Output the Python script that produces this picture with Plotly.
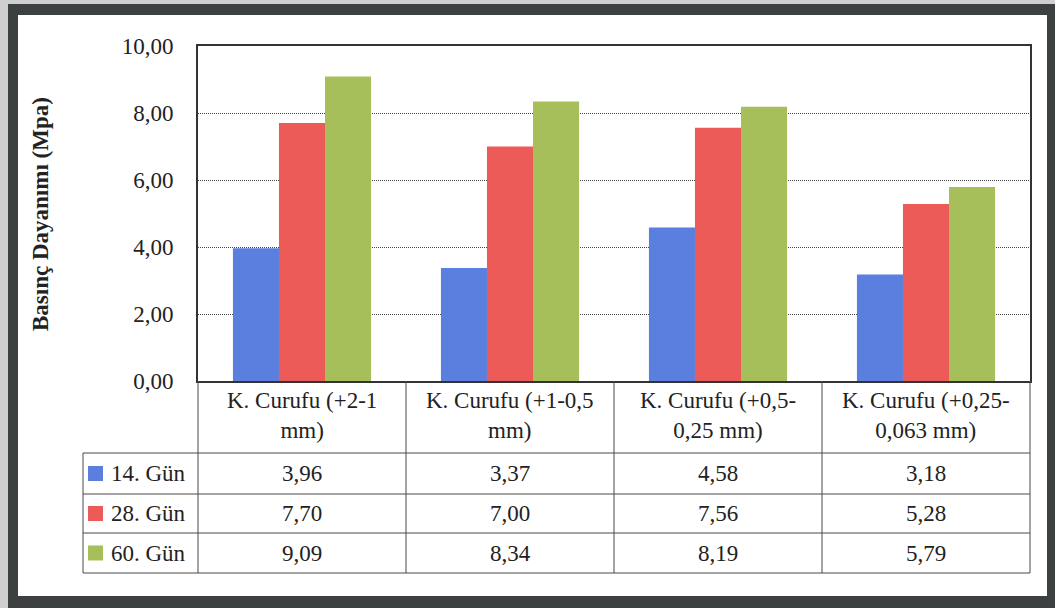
import plotly.graph_objects as go

# Compressive strength (MPa) of mortar with slag fractions, by curing age
categories = [
    "K. Curufu (+2-1<br>mm)",
    "K. Curufu (+1-0,5<br>mm)",
    "K. Curufu (+0,5-<br>0,25 mm)",
    "K. Curufu (+0,25-<br>0,063 mm)",
]
series_names = ["14. Gün", "28. Gün", "60. Gün"]
day14 = [3.96, 3.37, 4.58, 3.18]
day28 = [7.70, 7.00, 7.56, 5.28]
day60 = [9.09, 8.34, 8.19, 5.79]
y_ticks = [0, 2, 4, 6, 8, 10]
y_title = "Basınç Dayanımı (Mpa)"

series_values = [day14, day28, day60]
colors = ["#5B7FDF", "#EC5B58", "#A6BF5B"]

W, H = 1055, 608
L, R, T, B = 198, 1030, 46, 381  # plot area in pixels
FONT = "Liberation Serif, Times New Roman, serif"
FS = 23


def px(x):
    return (x - L) / (R - L)


def py(y):
    return (B - y) / (B - T)


def fmt(v):
    return f"{v:.2f}".replace(".", ",")


fig = go.Figure()
for name, vals, col in zip(series_names, series_values, colors):
    fig.add_trace(go.Bar(x=categories, y=vals, name=name, marker_color=col,
                         marker_line_width=0, showlegend=False))

shapes = []
# outer frame
shapes.append(dict(type="rect", xref="paper", yref="paper", layer="below",
                   x0=px(8), x1=px(W + 5), y0=py(4), y1=py(H + 5),
                   fillcolor="#3d4040", line_width=0))
shapes.append(dict(type="rect", xref="paper", yref="paper", layer="below",
                   x0=px(18), x1=px(1047), y0=py(15), y1=py(596),
                   fillcolor="white", line_width=0))

# data table grid
line = dict(color="#4a4a4a", width=1)
header_bottom = 453
row_edges = [453, 494, 533, 573]
col_edges = [L + i * (R - L) / 4 for i in range(5)]
for x in col_edges:
    shapes.append(dict(type="line", xref="paper", yref="paper",
                       x0=px(x), x1=px(x), y0=py(B), y1=py(row_edges[-1]), line=line))
shapes.append(dict(type="line", xref="paper", yref="paper",
                   x0=px(83), x1=px(83), y0=py(row_edges[0]), y1=py(row_edges[-1]), line=line))
for y in row_edges:
    shapes.append(dict(type="line", xref="paper", yref="paper",
                       x0=px(83), x1=px(R), y0=py(y), y1=py(y), line=line))

annotations = []
# category header cells
for c in categories:
    annotations.append(dict(x=c, xref="x", y=py((B + header_bottom) / 2 - 2), yref="paper",
                            text=c, showarrow=False, font=dict(family=FONT, size=FS, color="#222"),
                            xanchor="center", yanchor="middle"))
# value rows with legend keys
for i, (name, vals, col) in enumerate(zip(series_names, series_values, colors)):
    yc = (row_edges[i] + row_edges[i + 1]) / 2
    shapes.append(dict(type="rect", xref="paper", yref="paper",
                       x0=px(88), x1=px(103), y0=py(yc - 7.5), y1=py(yc + 7.5),
                       fillcolor=col, line_width=0))
    annotations.append(dict(x=px(109), xref="paper", y=py(yc), yref="paper",
                            text=name, showarrow=False, xanchor="left", yanchor="middle",
                            font=dict(family=FONT, size=FS, color="#222")))
    for c, v in zip(categories, vals):
        annotations.append(dict(x=c, xref="x", y=py(yc), yref="paper", text=fmt(v),
                                showarrow=False, xanchor="center", yanchor="middle",
                                font=dict(family=FONT, size=FS, color="#222")))

# axis title
annotations.append(dict(x=px(40), xref="paper", y=py(214), yref="paper", text=f"<b>{y_title}</b>",
                        textangle=-90, showarrow=False, xanchor="center", yanchor="middle",
                        font=dict(family=FONT, size=23, color="#222")))

fig.update_layout(
    width=W, height=H,
    margin=dict(l=L, r=W - R, t=T, b=H - B),
    paper_bgcolor="#cfcfcf", plot_bgcolor="white",
    separators=", ",
    barmode="group", bargap=0.336, bargroupgap=0,
    font=dict(family=FONT, size=FS, color="#222"),
    shapes=shapes, annotations=annotations,
)
fig.update_xaxes(showticklabels=False, ticks="", showline=True, linecolor="#333",
                 linewidth=2, mirror=True, showgrid=False)
fig.update_yaxes(range=[0, 10], tickvals=y_ticks, tickformat=".2f", showline=True,
                 linecolor="#333", linewidth=2, mirror=True, showgrid=True,
                 gridcolor="#444", griddash="1px,1px", gridwidth=1, ticks="",
                 ticklabelstandoff=18, zeroline=False,
                 tickfont=dict(family=FONT, size=FS, color="#222"))

fig.write_html("out.html")
